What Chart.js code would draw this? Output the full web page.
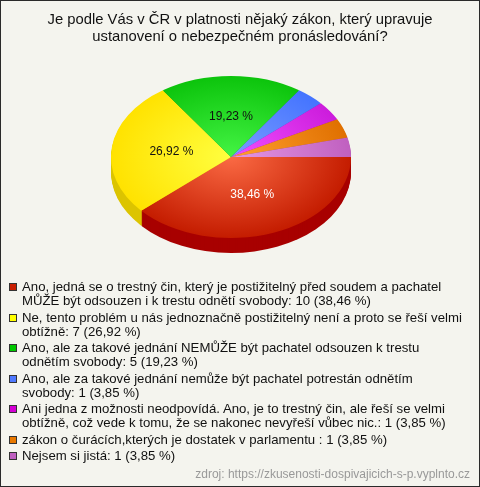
<!DOCTYPE html>
<html>
<head>
<meta charset="utf-8">
<script src="https://cdn.jsdelivr.net/npm/chart.js@4.4.0/dist/chart.umd.min.js"></script>
<style>
  html, body { margin: 0; padding: 0; background: #fff; }
  #wrap {
    position: relative; width: 478px; height: 485px;
    border: 1px solid #2a2a2a; background: #f4f4ee; overflow: hidden;
    font-family: "Liberation Sans", Arial, sans-serif;
  }
  #pieChart { position: absolute; left: 0; top: 0; }
  #legend { position: absolute; left: 7px; top: 279px; width: 470px; }
  .item { display: flex; align-items: flex-start; margin-bottom: 2.5px; }
  .box { width: 6px; height: 6px; border: 1px solid #333; margin: 3px 5px 0 1px; flex: none; }
  .txt { font-size: 13.2px; line-height: 14px; color: #111; white-space: nowrap; }
  #source { position: absolute; right: 9px; top: 466px; font-size: 12px; color: #999; }
</style>
</head>
<body>
<div id="wrap">
  <canvas id="pieChart" width="478" height="280"></canvas>
  <div id="legend"></div>
  <div id="source">zdroj: https://zkusenosti-dospivajicich-s-p.vyplnto.cz</div>
</div>
<script>
const titleLines = ['Je podle Vás v ČR v platnosti nějaký zákon, který upravuje',
                    'ustanovení o nebezpečném pronásledování?'];
const categories = [
    ['Ano, jedná se o trestný čin, který je postižitelný před soudem a pachatel', 'MŮŽE být odsouzen i k trestu odnětí svobody'],
    ['Ne, tento problém u nás jednoznačně postižitelný není a proto se řeší velmi', 'obtížně'],
    ['Ano, ale za takové jednání NEMŮŽE být pachatel odsouzen k trestu', 'odnětím svobody'],
    ['Ano, ale za takové jednání nemůže být pachatel potrestán odnětím', 'svobody'],
    ['Ani jedna z možnosti neodpovídá. Ano, je to trestný čin, ale řeší se velmi', 'obtížně, což vede k tomu, že se nakonec nevyřeší vůbec nic.'],
    ['zákon o čurácích,kterých je dostatek v parlamentu '],
    ['Nejsem si jistá']
];
const counts = [10, 7, 5, 1, 1, 1, 1];
const percents = ['38,46 %', '26,92 %', '19,23 %', '3,85 %', '3,85 %', '3,85 %', '3,85 %'];
const showLabel = [true, true, true, false, false, false, false];
const labelColors = ['#ffffff', '#111111', '#111111', '#111111', '#111111', '#111111', '#111111'];

const lightColors = ['#fa6a44', '#ffff40', '#44f444', '#7a9cff', '#f050ff', '#ffa030', '#e498e4'];
const baseColors  = ['#c41c00', '#ffe200', '#0cc40c', '#4474ff', '#cc1cdc', '#e07000', '#c060c0'];
const sideColors  = ['#a80000', '#dcc400', '#0a9a0a', '#3358cc', '#a010b0', '#b05800', '#9a4a9a'];
const boxColors   = ['#c81e00', '#ffff00', '#00c800', '#4f79ff', '#d400d4', '#e87800', '#c060c0'];

// projection of the flat pie onto a tilted disc
const pieCenterX = 230;
const pieCenterY = 156;
const radiusX = 120;
const radiusY = 81;
const depth = 15;

function project(ctx, arc, dy) {
    ctx.translate(pieCenterX, pieCenterY + dy);
    ctx.scale(radiusX / arc.outerRadius, radiusY / arc.outerRadius);
    ctx.translate(-arc.x, -arc.y);
}

const tiltPlugin = {
    id: 'tilt3d',
    beforeDatasetsDraw(chart) {
        const ctx = chart.ctx;
        const arcs = chart.getDatasetMeta(0).data;
        // side walls
        for (let k = depth; k >= 1; k--) {
            arcs.forEach(function (arc, i) {
                ctx.save();
                project(ctx, arc, k);
                ctx.beginPath();
                ctx.moveTo(arc.x, arc.y);
                ctx.arc(arc.x, arc.y, arc.outerRadius, arc.startAngle, arc.endAngle);
                ctx.closePath();
                ctx.fillStyle = sideColors[i];
                ctx.fill();
                ctx.restore();
            });
        }
        ctx.save();
        project(ctx, arcs[0], 0);
    },
    afterDatasetsDraw(chart) {
        const ctx = chart.ctx;
        ctx.restore();
        const arcs = chart.getDatasetMeta(0).data;
        ctx.save();
        ctx.font = '12px "Liberation Sans", Arial, sans-serif';
        ctx.textAlign = 'center';
        ctx.textBaseline = 'middle';
        arcs.forEach(function (arc, i) {
            if (!showLabel[i]) return;
            const p = arc.tooltipPosition();
            const k = 1 / arc.outerRadius;
            const x = pieCenterX + (p.x - arc.x) * radiusX * k;
            const y = pieCenterY + (p.y - arc.y) * radiusY * k;
            ctx.fillStyle = labelColors[i];
            ctx.fillText(percents[i], x, y);
        });
        ctx.restore();
    }
};

function sliceGradient(context) {
    const i = context.dataIndex;
    const chart = context.chart;
    const area = chart.chartArea;
    if (!area) return baseColors[i];
    const cx = (area.left + area.right) / 2;
    const cy = (area.top + area.bottom) / 2;
    const r = Math.min(area.right - area.left, area.bottom - area.top) / 2;
    const g = chart.ctx.createRadialGradient(cx, cy, 0, cx, cy, r);
    g.addColorStop(0, lightColors[i]);
    g.addColorStop(1, baseColors[i]);
    return g;
}

document.addEventListener("DOMContentLoaded", function () {
    const canvas = document.getElementById('pieChart');
    const ctx = canvas.getContext('2d');

    new Chart(ctx, {
        type: 'pie',
        data: {
            labels: categories,
            datasets: [{
                data: counts,
                backgroundColor: sliceGradient,
                borderWidth: 0,
                clip: false
            }]
        },
        options: {
            responsive: false,
            animation: false,
            rotation: 90,
            plugins: {
                legend: { display: false },
                tooltip: { enabled: false },
                title: {
                    display: true,
                    text: titleLines,
                    color: '#111',
                    font: { size: 14.8, family: '"Liberation Sans", Arial, sans-serif', weight: 'normal', lineHeight: 1.1 },
                    padding: { top: 11, bottom: 6 }
                }
            }
        },
        plugins: [tiltPlugin]
    });

    // legend
    const legend = document.getElementById('legend');
    categories.forEach(function (lines, i) {
        const item = document.createElement('div');
        item.className = 'item';
        const box = document.createElement('div');
        box.className = 'box';
        box.style.background = boxColors[i];
        const txt = document.createElement('div');
        txt.className = 'txt';
        const last = lines.length - 1;
        txt.innerHTML = lines.map(function (l, j) {
            return j === last ? l + ': ' + counts[i] + ' (' + percents[i] + ')' : l;
        }).join('<br>');
        item.appendChild(box);
        item.appendChild(txt);
        legend.appendChild(item);
    });
});
</script>
</body>
</html>
